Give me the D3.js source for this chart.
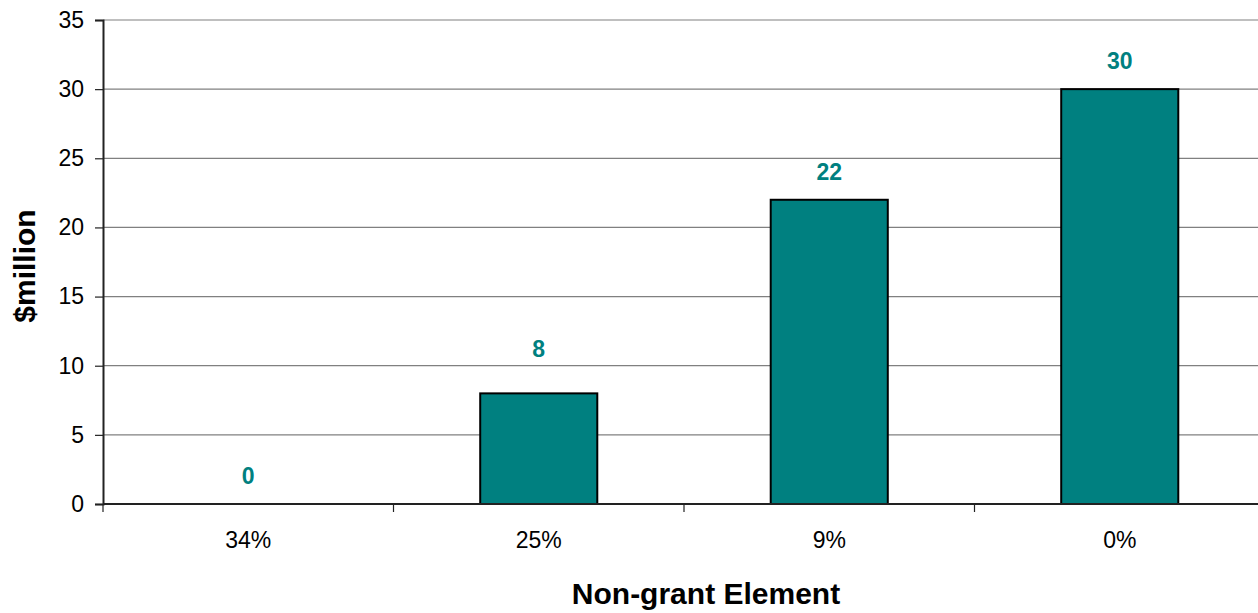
<!DOCTYPE html>
<html>
<head>
<meta charset="utf-8">
<script src="https://cdn.jsdelivr.net/npm/d3@7"></script>
<style>
  body { margin: 0; background: #fff; }
  text { font-family: "Liberation Sans", Arial, sans-serif; }
</style>
</head>
<body>
<svg width="1258" height="613"></svg>
<script>
// chart data
const categories = ["34%", "25%", "9%", "0%"];
const values = [0, 8, 22, 30];
const yTicks = [0, 5, 10, 15, 20, 25, 30, 35];

const svg = d3.select("svg");
const plotLeft = 103, plotRight = 1265, plotTop = 20, plotBottom = 504;

const x = d3.scaleBand()
  .domain(categories)
  .range([plotLeft, plotRight])
  .paddingInner(0.597)
  .paddingOuter(0.2985);

const y = d3.scaleLinear().domain([0, 35]).range([plotBottom, plotTop]);

// gridlines
svg.append("g")
  .selectAll("line")
  .data(yTicks.filter(d => d > 0))
  .enter()
  .append("line")
  .attr("x1", plotLeft)
  .attr("x2", plotRight)
  .attr("y1", d => y(d))
  .attr("y2", d => y(d))
  .attr("stroke", "#808080")
  .attr("stroke-width", 1.2);

// y axis
const yAxis = svg.append("g")
  .attr("transform", "translate(" + plotLeft + ",0)")
  .call(d3.axisLeft(y).tickValues(yTicks).tickSize(8).tickPadding(11));
yAxis.select(".domain").attr("stroke", "#222").attr("stroke-width", 2);
yAxis.selectAll(".tick line").attr("stroke", "#222").attr("stroke-width", 1.2);
yAxis.selectAll("text")
  .attr("font-size", "23px")
  .attr("font-family", "Liberation Sans, Arial, sans-serif")
  .attr("fill", "#000");

// bars
svg.append("g")
  .selectAll("rect")
  .data(values)
  .enter()
  .append("rect")
  .attr("x", (d, i) => x(categories[i]))
  .attr("width", x.bandwidth())
  .attr("y", d => y(d))
  .attr("height", d => y(0) - y(d))
  .attr("fill", "#008080")
  .attr("stroke", "#000")
  .attr("stroke-width", 2)
  .attr("display", d => d > 0 ? null : "none");

// x axis line + ticks at band boundaries
svg.append("line")
  .attr("x1", plotLeft)
  .attr("x2", plotRight)
  .attr("y1", y(0))
  .attr("y2", y(0))
  .attr("stroke", "#222")
  .attr("stroke-width", 2);

svg.append("g")
  .selectAll("line")
  .data(categories)
  .enter()
  .append("line")
  .attr("x1", d => x(d) - x.step() * x.paddingOuter())
  .attr("x2", d => x(d) - x.step() * x.paddingOuter())
  .attr("y1", y(0))
  .attr("y2", y(0) + 8)
  .attr("stroke", "#222")
  .attr("stroke-width", 1.2);

svg.append("g")
  .selectAll("text")
  .data(categories)
  .enter()
  .append("text")
  .attr("x", d => x(d) + x.bandwidth() / 2)
  .attr("y", 548)
  .attr("text-anchor", "middle")
  .attr("font-size", "23px")
  .text(d => d);

// value labels (the 25% label sits a bit higher in the original)
const labelNudge = { "25%": 16 };
svg.append("g")
  .selectAll("text")
  .data(values)
  .enter()
  .append("text")
  .attr("x", (d, i) => x(categories[i]) + x.bandwidth() / 2)
  .attr("y", (d, i) => y(d) - 20 - (labelNudge[categories[i]] || 0))
  .attr("text-anchor", "middle")
  .attr("font-size", "23px")
  .attr("font-weight", "bold")
  .attr("fill", "#008080")
  .text(d => d);

// axis titles
svg.append("text")
  .attr("transform", "translate(35,266)rotate(-90)")
  .attr("text-anchor", "middle")
  .attr("font-size", "30px")
  .attr("font-weight", "bold")
  .text("$million");

svg.append("text")
  .attr("x", 706)
  .attr("y", 604)
  .attr("text-anchor", "middle")
  .attr("font-size", "30px")
  .attr("font-weight", "bold")
  .text("Non-grant Element");
</script>
</body>
</html>
